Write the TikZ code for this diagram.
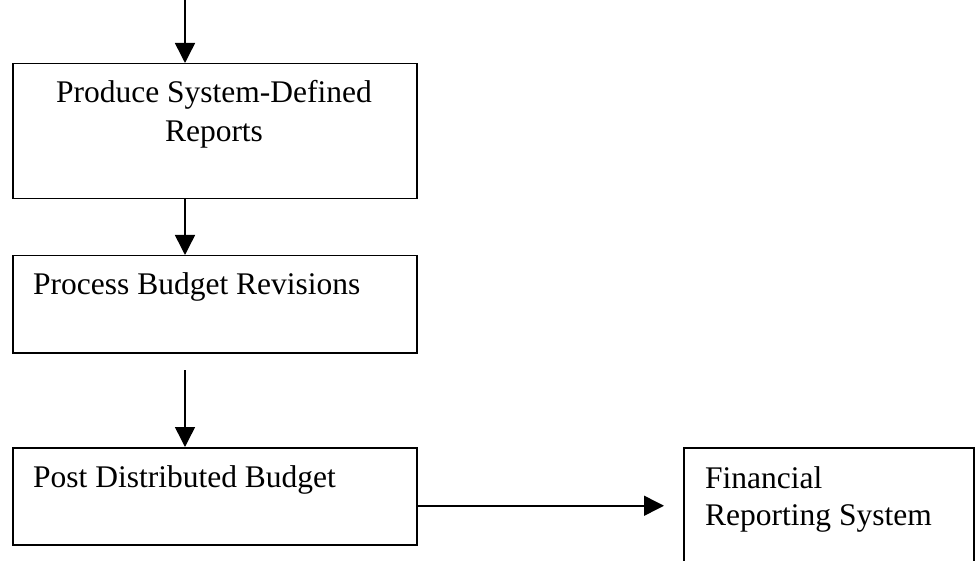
\documentclass[tikz,border=0pt]{standalone}
\usepackage{fontspec}
\setmainfont{Liberation Serif}
\usetikzlibrary{arrows.meta}
\begin{document}
\begin{tikzpicture}[x=1pt,y=-1pt,
  box/.style={draw, line width=1.5pt, inner sep=0pt, anchor=north west},
  flow/.style={line width=1.5pt, -{Triangle[width=20pt,length=20pt]}},
  label/.style={inner sep=0pt, font=\fontsize{31.5}{38.5}\selectfont}]
\useasboundingbox (0,0) rectangle (980,561);
\clip (0,0) rectangle (980,561);

% process boxes
\node[box, minimum width=404pt, minimum height=135pt] (produce) at (12,63) {};
\node[box, minimum width=404pt, minimum height=97pt]  (revise)  at (12,255) {};
\node[box, minimum width=404pt, minimum height=97pt]  (post)    at (12,447) {};
\node[box, minimum width=290pt, minimum height=140pt] (frs)     at (683,447) {};

% box texts
\node[label, anchor=base] (tproduce) at (214,103)
  {\begin{tabular}[t]{@{}c@{}}Produce System-Defined\\Reports\end{tabular}};
\node[label, anchor=base west] (trevise) at (33,295) {Process Budget Revisions};
\node[label, anchor=base west] (tpost) at (33,487) {Post Distributed Budget};
\node[label, anchor=base west, font=\fontsize{31.5}{37}\selectfont] (tfrs) at (705,488)
  {\begin{tabular}[t]{@{}l@{}}Financial\\Reporting System\end{tabular}};

% connectors
\coordinate (in) at (185,0);
\coordinate (gap) at (185,370);
\coordinate (out) at ([yshift=-9.5pt]post.east);
\draw[flow] (in) -- (in |- produce.north);
\draw[flow] (in |- produce.south) -- (in |- revise.north);
\draw[flow] (gap) -- (gap |- post.north);
\draw[flow, shorten >=19pt] (out) -- (out -| frs.west);
\end{tikzpicture}
\end{document}
